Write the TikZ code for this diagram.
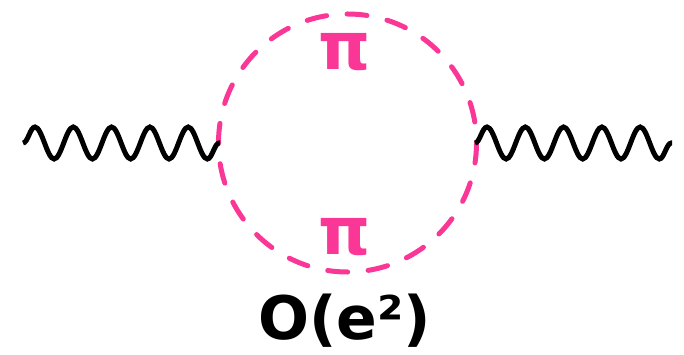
\documentclass[tikz,border=0pt]{standalone}
\usepackage{fontspec}
\setmainfont{DejaVu Sans}
\usepackage{xcolor}
\usetikzlibrary{decorations.pathmorphing}
\definecolor{mypink}{RGB}{250,55,150}
\begin{document}
\begin{tikzpicture}[
  x=1pt, y=-1pt,
  every node/.style={inner sep=0pt, font=\bfseries},
  photon/.style={black, line width=5pt, decorate,
    decoration={snake, segment length=38.3pt, amplitude=16pt}},
  pion/.style={mypink, line width=5pt, line cap=round, dash pattern=on 20pt off 20.5pt, dash phase=0pt},
  pilabel/.style={mypink, font=\fontsize{66}{66}\selectfont\bfseries},
  orderlabel/.style={black, font=\fontsize{60}{60}\selectfont\bfseries}
]
\useasboundingbox (0,0) rectangle (684,355);
\coordinate (in) at (23,143);
\coordinate (left) at (220,143);
\coordinate (right) at (475,143);
\coordinate (out) at (672,143);
\coordinate (centre) at (347.5,143);
\draw[pion] (centre) circle[radius=129];
\draw[photon] (in) -- (left);
\draw[photon] (right) -- (out);
\node[pilabel] (pitop) at (345,52.5) {π};
\node[pilabel] (pibottom) at (345,237) {π};
\node[orderlabel] (order) at (344.5,321) {O(e²)};
\end{tikzpicture}
\end{document}
